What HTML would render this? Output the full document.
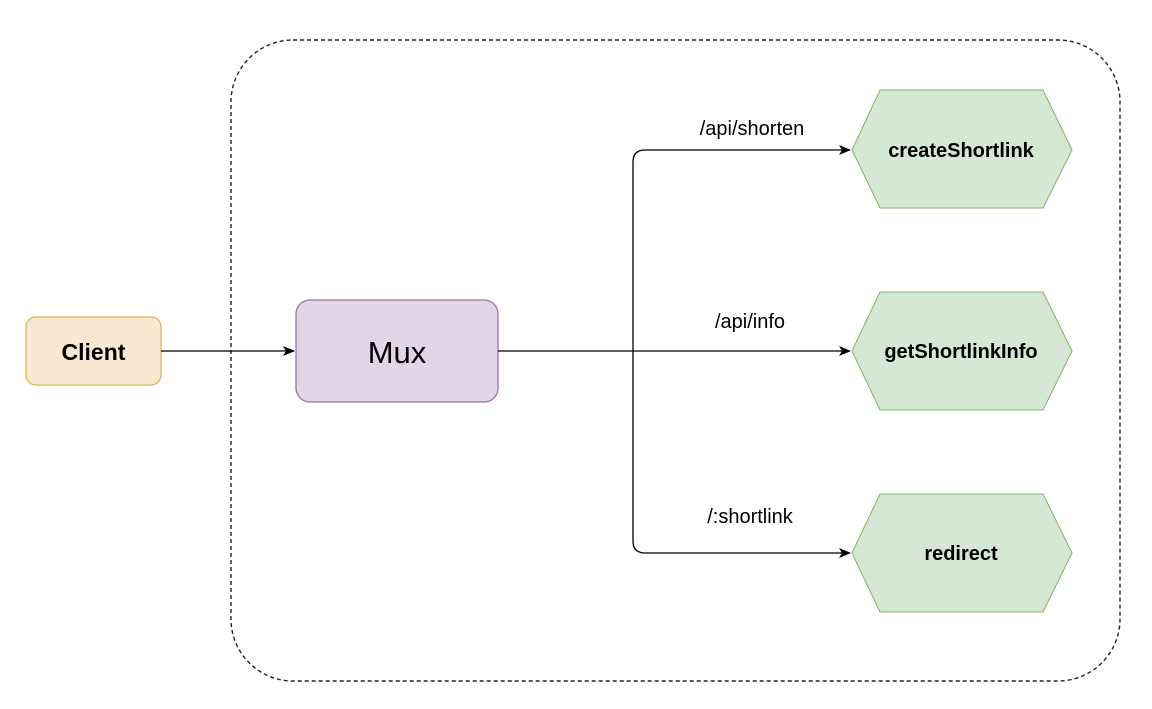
<!DOCTYPE html>
<html><head><style>
html,body{margin:0;padding:0;background:#fff;}
body{width:1152px;height:704px;overflow:hidden;}
</style></head><body>
<svg width="1152" height="704" viewBox="0 0 1152 704" xmlns="http://www.w3.org/2000/svg" font-family="Liberation Sans, Arial, sans-serif">
<defs><marker id="a" markerWidth="12" markerHeight="10" refX="11" refY="5" orient="auto" markerUnits="userSpaceOnUse"><path d="M0,0 L12,5 L0,10 L3,5 Z" fill="#000"/></marker></defs>
<rect x="231" y="40" width="889" height="641" rx="62" fill="none" stroke="#222" stroke-width="1.4" stroke-dasharray="4,3"/>
<rect x="26" y="317" width="135" height="68" rx="10" fill="#fbe8d2" stroke="#d6b656" stroke-width="1.3"/>
<text x="93.5" y="360" text-anchor="middle" font-size="23" font-weight="bold">Client</text>
<rect x="296" y="300" width="202" height="102" rx="14" fill="#e1d5e7" stroke="#9673a6" stroke-width="1.3"/>
<text x="397" y="363" text-anchor="middle" font-size="31">Mux</text>
<line x1="161" y1="351" x2="294" y2="351" stroke="#000" stroke-width="1.3" marker-end="url(#a)"/>
<line x1="498" y1="351" x2="850" y2="351" stroke="#000" stroke-width="1.3" marker-end="url(#a)"/>
<path d="M850,150 L645,150 Q633,150 633,162 L633,541 Q633,553 645,553 L850,553" fill="none" stroke="#000" stroke-width="1.3"/>
<line x1="840" y1="150" x2="850" y2="150" stroke="#000" marker-end="url(#a)"/>
<line x1="840" y1="553" x2="850" y2="553" stroke="#000" marker-end="url(#a)"/>
<g font-size="20" text-anchor="middle">
<text x="752" y="135">/api/shorten</text>
<text x="750" y="328">/api/info</text>
<text x="750" y="523">/:shortlink</text>
</g>
<g fill="#d5e8d4" stroke="#82b366" stroke-width="1">
<polygon points="852,150 880,90 1043,90 1072,150 1043,208 880,208"/>
<polygon points="852,351 880,292 1043,292 1072,351 1043,410 880,410"/>
<polygon points="852,553 880,494 1043,494 1072,553 1043,612 880,612"/>
</g>
<g font-size="20" font-weight="bold" text-anchor="middle">
<text x="961" y="157">createShortlink</text>
<text x="961" y="358">getShortlinkInfo</text>
<text x="961" y="560">redirect</text>
</g>
</svg>
</body></html>
